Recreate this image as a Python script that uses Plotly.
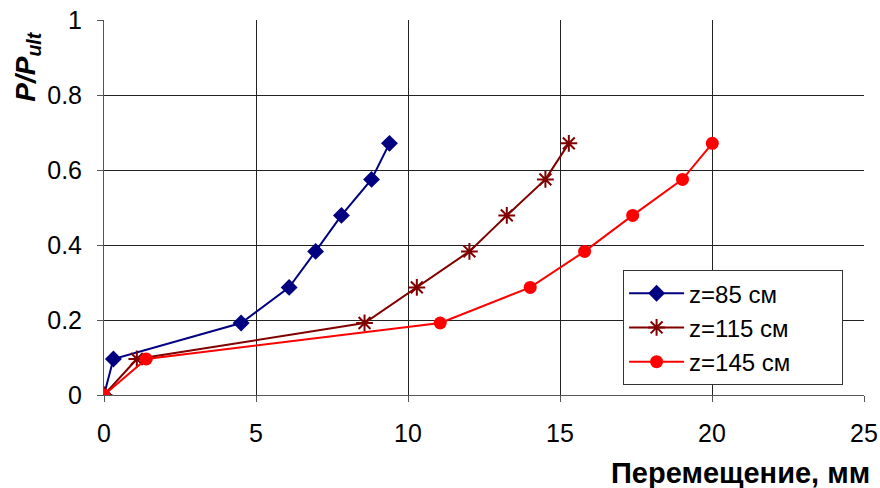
import plotly.graph_objects as go

load = [0, 0.096, 0.192, 0.287, 0.383, 0.479, 0.575, 0.671]
disp_85 = [0, 0.31, 4.51, 6.09, 6.96, 7.81, 8.80, 9.39]
disp_115 = [0, 1.08, 8.57, 10.29, 12.02, 13.25, 14.52, 15.29]
disp_145 = [0, 1.39, 11.06, 14.02, 15.81, 17.39, 19.03, 20.01]
names = ["z=85 см", "z=115 см", "z=145 см"]
x_ticks = [0, 5, 10, 15, 20, 25]
y_ticks = [0, 0.2, 0.4, 0.6, 0.8, 1]
y_tick_text = ["0", "0.2", "0.4", "0.6", "0.8", "1"]

FONT = "Liberation Sans, Arial, sans-serif"
PAD = "\u00a0" * 7

fig = go.Figure()
fig.add_trace(go.Scatter(x=disp_85, y=load, name=names[0] + PAD, mode="lines+markers",
                         line=dict(color="#000080", width=2),
                         marker=dict(symbol="diamond", size=13, color="#000080")))
fig.add_trace(go.Scatter(x=disp_115, y=load, name=names[1] + PAD, mode="lines+markers",
                         line=dict(color="#800000", width=2),
                         marker=dict(symbol="asterisk-open", size=14, color="#800000",
                                     line=dict(color="#800000", width=2))))
fig.add_trace(go.Scatter(x=disp_145, y=load, name=names[2] + PAD, mode="lines+markers",
                         line=dict(color="#FF0000", width=2),
                         marker=dict(symbol="circle", size=13, color="#FF0000")))

fig.update_layout(
    width=880, height=488,
    margin=dict(l=104, r=16, t=20, b=93, autoexpand=False),
    paper_bgcolor="white", plot_bgcolor="white",
    font=dict(family=FONT, size=25, color="black"),
    showlegend=True,
    legend=dict(x=0.683, y=0.333, xanchor="left", yanchor="top",
                bgcolor="white", bordercolor="#333333", borderwidth=1,
                font=dict(size=24), itemwidth=55, tracegroupgap=0),
    xaxis=dict(range=[0, 25], tickvals=x_ticks, showgrid=True, gridcolor="#222222",
               gridwidth=1, showline=True, linecolor="#555555", linewidth=1,
               ticks="outside", ticklen=6, tickcolor="#555555", zeroline=False,
               automargin=False, ticklabelstandoff=10,
               tickfont=dict(size=25, family=FONT)),
    yaxis=dict(range=[0, 1], tickvals=y_ticks, ticktext=y_tick_text, showgrid=True,
               gridcolor="#222222", gridwidth=1, showline=True, linecolor="#555555",
               linewidth=1, ticks="outside", ticklen=6, tickcolor="#555555",
               zeroline=False, automargin=False, ticklabelstandoff=10,
               tickfont=dict(size=25, family=FONT)),
    annotations=[
        dict(text="<b><i>P/P<sub>ult</sub></i></b>", xref="paper", yref="paper",
             x=-0.101, y=0.976, xanchor="center", yanchor="top", textangle=-90,
             showarrow=False, font=dict(size=28, family=FONT)),
        dict(text="<b>Перемещение, мм</b>", xref="paper", yref="paper",
             x=1.01, y=-0.208, xanchor="right", yanchor="middle",
             showarrow=False, font=dict(size=29, family=FONT)),
    ],
)

fig.write_html("out.html")
